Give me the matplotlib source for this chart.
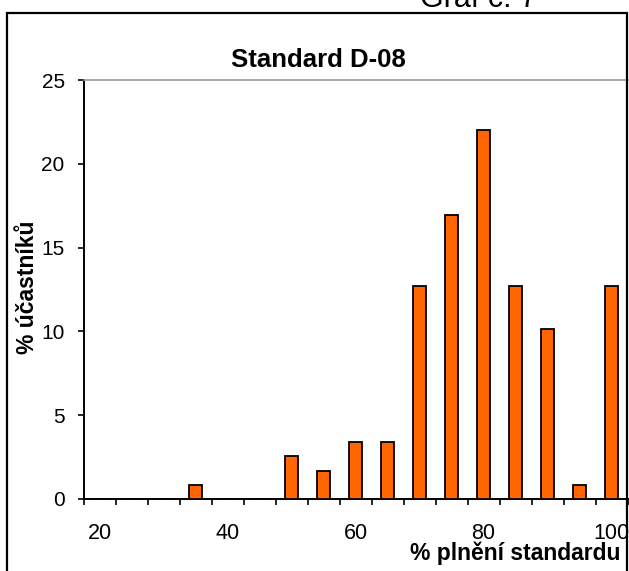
import matplotlib
matplotlib.use("Agg")
import matplotlib.pyplot as plt
from matplotlib.patches import Rectangle

plt.rcParams['font.family'] = ['Liberation Sans', 'DejaVu Sans']

categories = [20, 25, 30, 35, 40, 45, 50, 55, 60, 65, 70, 75, 80, 85, 90, 95, 100]
values = [0, 0, 0, 0.85, 0, 0, 2.54, 1.69, 3.39, 3.39, 12.71, 16.95, 22.03, 12.71, 10.17, 0.85, 12.71]
x_tick_labels = [20, 40, 60, 80, 100]
y_ticks = [0, 5, 10, 15, 20, 25]

W, H = 629, 571
fig = plt.figure(figsize=(W / 100, H / 100), dpi=100)

# outer chart frame
fig.patches.append(Rectangle((7 / W, -0.1), (627 - 7) / W, 1.1 - 13 / H,
                             transform=fig.transFigure, fill=False,
                             edgecolor='black', linewidth=1.6, zorder=0))

ax = fig.add_axes([83.5 / W, 1 - 499 / H, (627.5 - 83.5) / W, (499 - 80) / H])
ax.set_facecolor('none')

ax.bar(categories, values, width=1.9, color='#FF6600', edgecolor='black',
       linewidth=1.3, zorder=3)

ax.set_xlim(17.5, 102.5)
ax.set_ylim(0, 25)

# category boundary ticks
ax.set_xticks([17.5 + 5 * k for k in range(18)])
ax.set_xticklabels([])
ax.tick_params(axis='x', which='major', direction='out', length=4.5, width=1.2, color='black')
ax.set_xticks(x_tick_labels, minor=True)
ax.set_xticklabels([str(v) for v in x_tick_labels], minor=True)
ax.tick_params(axis='x', which='minor', length=0, pad=17.5, labelsize=15.5)

ax.set_yticks(y_ticks)
ax.set_yticklabels([str(v) for v in y_ticks])
ax.tick_params(axis='y', direction='out', length=4.5, width=1.2, pad=9, labelsize=15)

ax.spines['right'].set_visible(False)
ax.spines['top'].set_color('#999999')
ax.spines['top'].set_linewidth(1.2)
ax.spines['left'].set_linewidth(1.4)
ax.spines['bottom'].set_linewidth(1.4)

fig.text(318 / W, 1 - 60 / H, 'Standard D-08', ha='center', va='center',
         fontsize=18.5, fontweight='bold')
fig.text(27 / W, 1 - 287 / H, '% účastníků', ha='center', va='center',
         rotation=90, fontsize=16.5, fontweight='bold')
fig.text(620 / W, 1 - 553 / H, '% plnění standardu', ha='right', va='center',
         fontsize=16.5, fontweight='bold')
fig.text(420 / W, 1 - 7 / H, 'Graf č. 7', ha='left', va='baseline', fontsize=22)

fig.savefig('out.png', dpi=100)
